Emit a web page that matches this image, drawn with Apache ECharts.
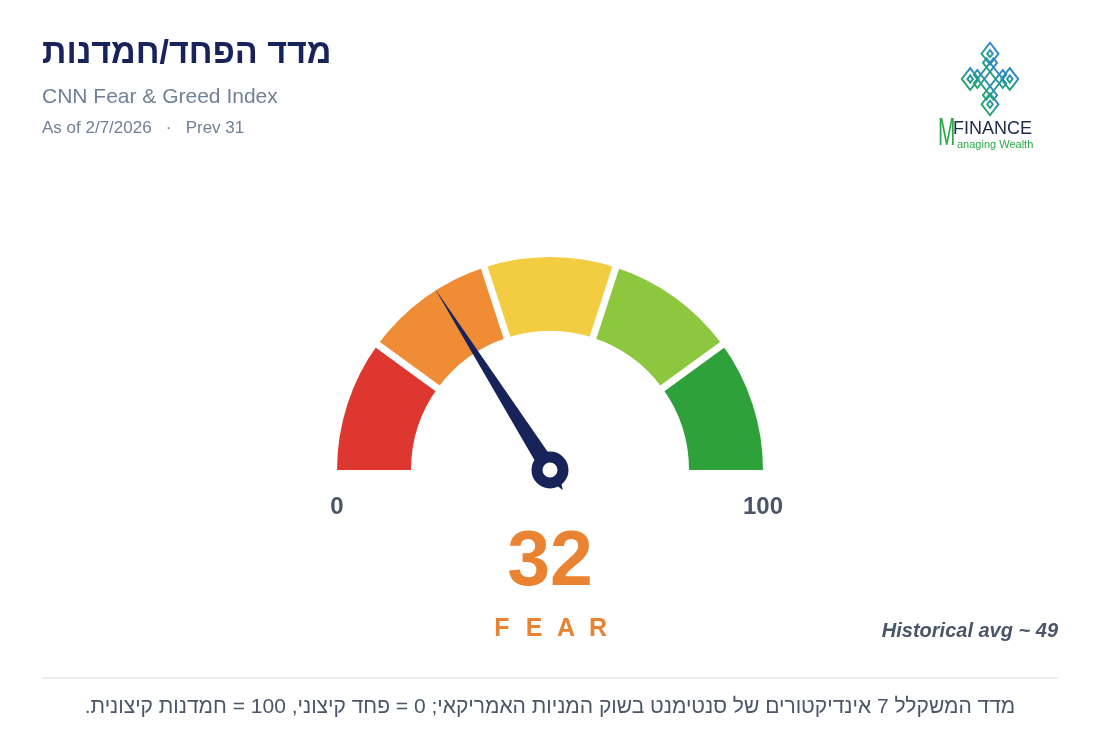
<!DOCTYPE html>
<html>
<head>
<meta charset="utf-8">
<script src="https://cdn.jsdelivr.net/npm/echarts@6/dist/echarts.min.js"></script>
<style>
html,body{margin:0;padding:0;background:#fff;}
#chart{width:1100px;height:748px;}
</style>
</head>
<body>
<div id="chart"></div>
<script>
// ---- data ----
const titleText = 'מדד הפחד/חמדנות';
const subtitleText = 'CNN Fear & Greed Index';
const asOfDate = '2/7/2026';
const prevValue = 31;
const gaugeValue = 32;
const sentimentLabel = 'FEAR';
const historicalAvg = 49;
const bandBreaks = [20, 40, 60, 80, 100];
const bandColors = ['#dd372f', '#ef8c35', '#f2cd42', '#8dc63f', '#2ea13a'];
const tickLabels = ['0', '100'];
const footnoteText = 'מדד המשקלל 7 אינדיקטורים של סנטימנט בשוק המניות האמריקאי; 0 = פחד קיצוני, 100 = חמדנות קיצונית.';

const NAVY = '#18235a';
const ORANGE = '#ea8331';
const GRAY = '#4a5568';
const LIGHT = '#718096';
const FONT = '"Liberation Sans", Arial, sans-serif';

const cx = 550, cy = 470, R = 213, W = 74;

const chart = echarts.init(document.getElementById('chart'), null, {renderer: 'canvas'});

const colorStops = bandBreaks.map((b, i) => [b / 100, bandColors[i]]);
const innerBreaks = bandBreaks.slice(0, -1);

// logo knot (local coordinates, rotated 45deg then stretched)
const logoGrad = new echarts.graphic.LinearGradient(0, 0, 1, 0, [
  {offset: 0, color: '#1fae5a'}, {offset: 1, color: '#2f7ee0'}
]);
const ls = {fill: 'none', stroke: logoGrad, lineWidth: 1.7};
const logoRects = [
  [-20, -20, 12, 12], [-16, -16, 4, 4],
  [8, -20, 12, 12], [12, -16, 4, 4],
  [-20, 8, 12, 12], [-16, 12, 4, 4],
  [8, 8, 12, 12], [12, 12, 4, 4],
  [-14, -9, 28, 5], [-14, 4, 28, 5],
  [-9, -14, 5, 28], [4, -14, 5, 28]
];
const logoChildren = logoRects.map(r => ({type: 'rect', shape: {x: r[0], y: r[1], width: r[2], height: r[3]}, style: ls}));

const fearLetters = sentimentLabel.split('').map((ch, i) => ({
  type: 'text', x: cx + (i - (sentimentLabel.length - 1) / 2) * 32, y: 629,
  style: {text: ch, fill: ORANGE, font: 'bold 25px ' + FONT, textAlign: 'center', textVerticalAlign: 'middle'}
}));

const option = {
  backgroundColor: '#ffffff',
  animation: false,
  series: [
    {
      type: 'gauge',
      center: [cx, cy],
      radius: R,
      startAngle: 180,
      endAngle: 0,
      min: 0,
      max: 100,
      splitNumber: 5,
      axisLine: {lineStyle: {width: W, color: colorStops}},
      axisTick: {show: false},
      splitLine: {show: false},
      axisLabel: {show: false},
      progress: {show: false},
      pointer: {
        show: true,
        icon: 'path://M9,0 L18,215 L9,239 L0,215 Z',
        length: 239,
        width: 17,
        offsetCenter: [0, 24],
        itemStyle: {color: NAVY}
      },
      anchor: {
        show: true, showAbove: true, size: 26, icon: 'circle',
        itemStyle: {color: '#ffffff', borderColor: NAVY, borderWidth: 11}
      },
      title: {show: false},
      detail: {
        show: true,
        offsetCenter: [0, 94],
        formatter: '{value}',
        color: ORANGE,
        fontSize: 77,
        fontWeight: 'bold',
        fontFamily: FONT
      },
      data: [{value: gaugeValue, name: sentimentLabel}]
    },
    {
      type: 'gauge',
      center: [cx, cy],
      radius: R,
      startAngle: 180 - innerBreaks[0] * 1.8,
      endAngle: 180 - innerBreaks[innerBreaks.length - 1] * 1.8,
      min: innerBreaks[0],
      max: innerBreaks[innerBreaks.length - 1],
      splitNumber: innerBreaks.length - 1,
      axisLine: {show: false, lineStyle: {width: W}},
      axisTick: {show: false},
      splitLine: {show: true, length: 82, distance: -78, lineStyle: {color: '#ffffff', width: 7}},
      axisLabel: {show: false},
      pointer: {show: false},
      anchor: {show: false},
      title: {show: false},
      detail: {show: false},
      data: []
    }
  ],
  graphic: [
    {type: 'text', x: 42, y: 54, style: {text: titleText, fill: NAVY, font: 'bold 34px ' + FONT, textAlign: 'left', textVerticalAlign: 'middle'}},
    {type: 'text', x: 42, y: 97, style: {text: subtitleText, fill: LIGHT, font: '21px ' + FONT, textAlign: 'left', textVerticalAlign: 'middle'}},
    {type: 'text', x: 42, y: 128, style: {text: 'As of ' + asOfDate + '   ·   Prev ' + prevValue, fill: LIGHT, font: '17px ' + FONT, textAlign: 'left', textVerticalAlign: 'middle'}},
    {type: 'text', x: cx - R, y: 507, style: {text: tickLabels[0], fill: GRAY, font: 'bold 24px ' + FONT, textAlign: 'center', textVerticalAlign: 'middle'}},
    {type: 'text', x: cx + R, y: 507, style: {text: tickLabels[1], fill: GRAY, font: 'bold 24px ' + FONT, textAlign: 'center', textVerticalAlign: 'middle'}},
    ...fearLetters,
    {type: 'text', x: 1058, y: 631, style: {text: 'Historical avg ~ ' + historicalAvg, fill: GRAY, font: 'italic bold 20px ' + FONT, textAlign: 'right', textVerticalAlign: 'middle'}},
    {type: 'line', shape: {x1: 42, y1: 678, x2: 1058, y2: 678}, style: {stroke: '#e5e7eb', lineWidth: 1.5}},
    {type: 'text', x: 550, y: 707, style: {text: '\u202B' + footnoteText + '\u202C', fill: GRAY, font: '21px ' + FONT, textAlign: 'center', textVerticalAlign: 'middle'}},
    {type: 'group', x: 990, y: 79, scaleY: 1.28, children: [
      {type: 'group', rotation: Math.PI / 4, children: logoChildren}
    ]},
    {type: 'text', x: 938, y: 135, scaleX: 0.55, style: {text: 'M', fill: '#2aa84a', font: '38px ' + FONT, textAlign: 'left', textVerticalAlign: 'middle'}},
    {type: 'text', x: 953, y: 129, style: {text: 'FINANCE', fill: '#1e2a4a', font: '18px ' + FONT, textAlign: 'left', textVerticalAlign: 'middle'}},
    {type: 'text', x: 957, y: 145, style: {text: 'anaging Wealth', fill: '#2aa84a', font: '11px ' + FONT, textAlign: 'left', textVerticalAlign: 'middle'}}
  ]
};
chart.setOption(option);
</script>
</body>
</html>
